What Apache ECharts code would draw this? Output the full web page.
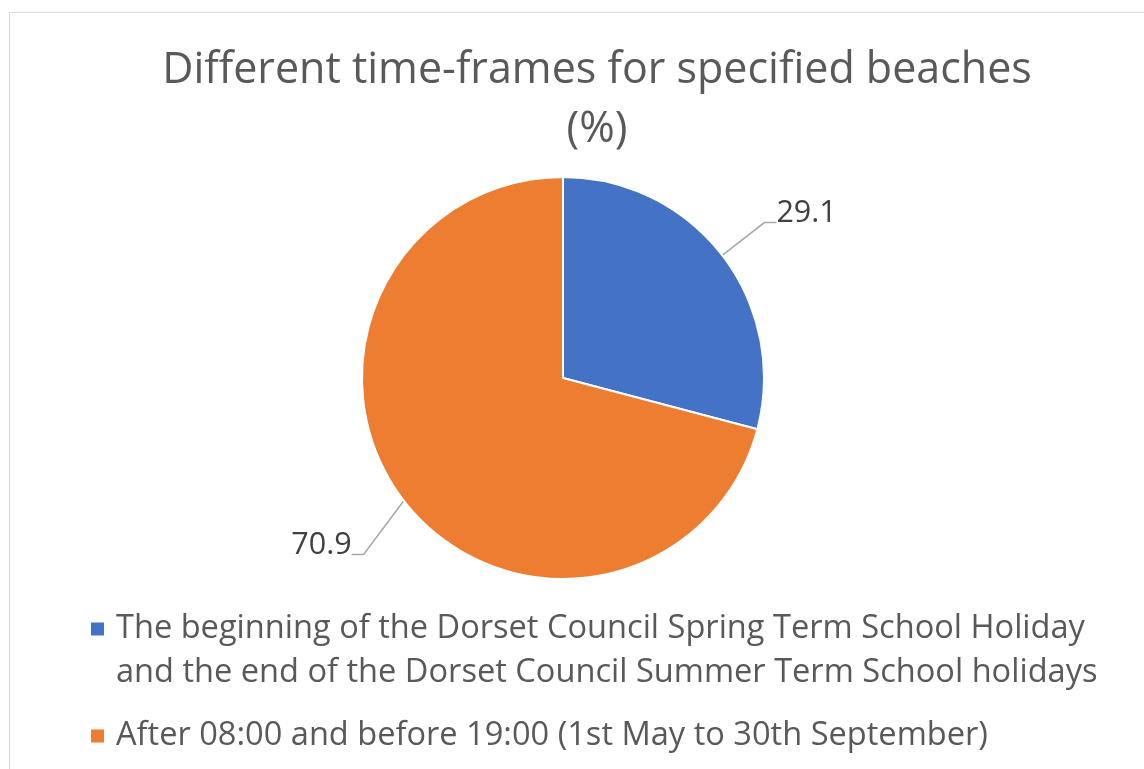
<!DOCTYPE html>
<html>
<head>
<meta charset="utf-8">
<script src="https://cdn.jsdelivr.net/npm/echarts@6/dist/echarts.min.js"></script>
<style>
html,body{margin:0;padding:0;background:#fff;}
#chart{width:1144px;height:769px;}
</style>
</head>
<body>
<div id="chart"></div>
<script>
const titleLines = ['Different time-frames for specified beaches', '(%)'];
const categories = [
  'The beginning of the Dorset Council Spring Term School Holiday\nand the end of the Dorset Council Summer Term School holidays',
  'After 08:00 and before 19:00 (1st May to 30th September)'
];
const values = [29.1, 70.9];
const colors = ['#4472C4', '#ED7D31'];

const FONT = '"Open Sans", "Noto Sans", sans-serif';
const LEG_LH = 44;
// nudges of the value labels relative to the default leader-line end
const labelShift = [-1, 22];
const labelShiftX = [-3, 5];

const chart = echarts.init(document.getElementById('chart'), null, {renderer: 'canvas'});
chart.setOption({
  backgroundColor: '#ffffff',
  animation: false,
  graphic: [{
    type: 'rect',
    shape: {x: 9.5, y: 12.5, width: 1200, height: 800},
    style: {fill: 'none', stroke: '#d9d9d9', lineWidth: 1},
    silent: true
  }],
  title: {
    text: titleLines.join('\n'),
    left: 592,
    top: 36,
    textAlign: 'center',
    textStyle: {
      fontFamily: FONT,
      fontSize: 43,
      fontWeight: 'normal',
      color: '#595959',
      lineHeight: 59
    }
  },
  legend: {
    orient: 'vertical',
    left: 89,
    top: 563,
    padding: 0,
    itemWidth: 15,
    itemHeight: 15,
    itemGap: 19,
    icon: 'rect',
    textStyle: {
      fontFamily: FONT,
      fontSize: 32.6,
      color: '#595959',
      lineHeight: LEG_LH,
      padding: [0, 0, 0, 6]
    },
    formatter: function (name) {
      return name.indexOf('\n') >= 0 ? '\n' + name : name;
    },
    data: categories
  },
  series: [{
    type: 'pie',
    center: [563, 378],
    radius: 201,
    startAngle: 90,
    clockwise: true,
    itemStyle: {borderColor: '#ffffff', borderWidth: 2},
    label: {
      show: true,
      position: 'outside',
      formatter: '{c}\n',
      fontFamily: FONT,
      fontSize: 30.5,
      lineHeight: 18,
      color: '#404040',
      distanceToLabelLine: 4
    },
    labelLine: {
      show: true,
      length: 52,
      length2: 12,
      lineStyle: {color: '#a6a6a6', width: 1.5}
    },
    labelLayout: function (params) {
      const i = params.dataIndex;
      const r = params.labelRect;
      const alignRight = params.align === 'right';
      return {
        x: (alignRight ? r.x + r.width : r.x) + labelShiftX[i],
        y: r.y + r.height / 2 + labelShift[i]
      };
    },
    emphasis: {disabled: true},
    data: categories.map((c, i) => ({
      name: c,
      value: values[i],
      itemStyle: {color: colors[i]}
    }))
  }]
});
</script>
</body>
</html>
